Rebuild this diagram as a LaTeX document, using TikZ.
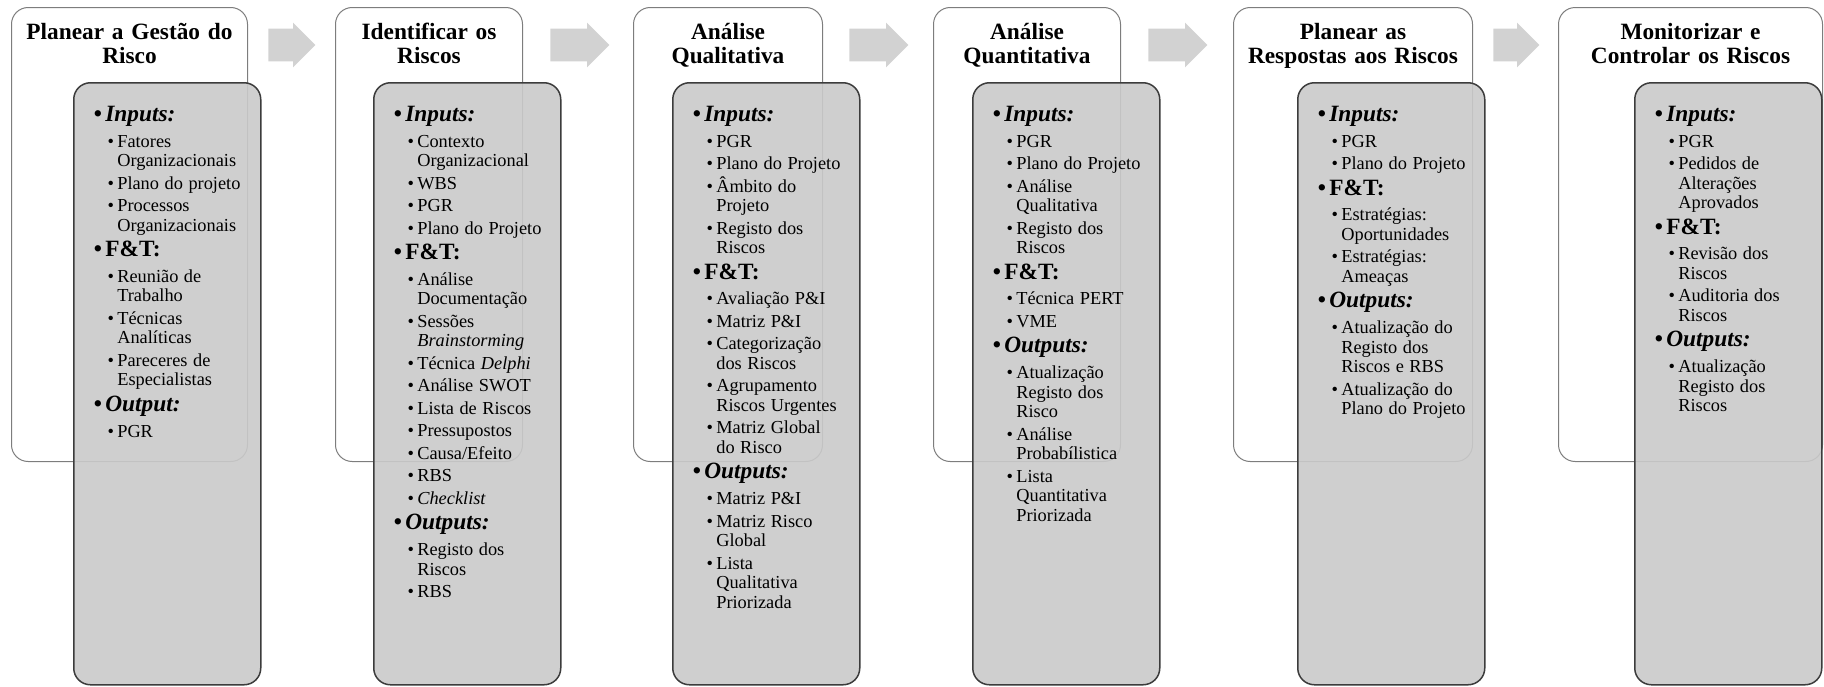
\documentclass[tikz,border=0pt]{standalone}
\usepackage{fontspec}
\setmainfont{Liberation Serif}
\usepackage{xcolor}
\definecolor{panelgray}{RGB}{202,202,202}
\definecolor{arrowgray}{RGB}{210,210,210}
\definecolor{framegray}{RGB}{125,125,125}
\definecolor{edgedark}{RGB}{60,60,60}
\usetikzlibrary{positioning, shapes.arrows}

\newcommand{\px}{0.6pt}
\newcommand{\grp}[1]{\par\leftskip=0pt\fontsize{14}{13.55}\selectfont\bfseries\noindent\llap{\textbullet\hspace{2pt}}#1\par\vspace{1.85pt}}
\newcommand{\itm}[1]{\par\leftskip=7.2pt\fontsize{11}{11.7}\selectfont\mdseries\noindent\llap{\textbullet\hspace{2pt}}#1\par}

\begin{document}
\begin{tikzpicture}[x=0.6pt, y=-0.6pt,
  frame/.style={draw=framegray, line width=0.6pt, rounded corners=10pt, fill=white, minimum height=454*\px, anchor=north west, inner sep=0},
  panel/.style={draw=edgedark, line width=0.9pt, rounded corners=10pt, fill=panelgray, fill opacity=0.9, minimum width=187*\px, minimum height=602*\px, anchor=north west, inner sep=0},
  ttl/.style={font=\fontsize{14}{14.4}\selectfont\bfseries, align=center, text width=260*\px, anchor=base, inner sep=0},
  lst/.style={text width=150*\px, align=left, anchor=base west, inner sep=0, execute at begin node={\parskip=1.8pt\lineskiplimit=-10pt}},
  flow/.style={single arrow, fill=arrowgray, draw=none, inner xsep=0, inner ysep=16*\px, text height=0pt, text depth=0pt, single arrow head extend=6*\px, anchor=tail}
]
\useasboundingbox (0,0) rectangle (1824,686);
% outer frames
\node[frame, minimum width=236*\px] (w1) at (11,7) {};
\node[frame, minimum width=187*\px] (w2) at (335,7) {};
\node[frame, minimum width=189*\px] (w3) at (633,7) {};
\node[frame, minimum width=187*\px] (w4) at (933,7) {};
\node[frame, minimum width=239*\px] (w5) at (1233,7) {};
\node[frame, minimum width=264*\px] (w6) at (1558,7) {};
% titles
\node[ttl] (t1) at ([yshift=-19.5pt]w1.north) {Planear a Gestão do\\Risco};
\node[ttl] (t2) at ([yshift=-19.5pt]w2.north) {Identificar os\\Riscos};
\node[ttl] (t3) at ([yshift=-19.5pt]w3.north) {Análise\\Qualitativa};
\node[ttl] (t4) at ([yshift=-19.5pt]w4.north) {Análise\\Quantitativa};
\node[ttl] (t5) at ([yshift=-19.5pt]w5.north) {Planear as\\Respostas aos Riscos};
\node[ttl] (t6) at ([yshift=-19.5pt]w6.north) {Monitorizar e\\Controlar os Riscos};
% inner panels
\node[panel] (p1) at (73,82) {};
\node[panel] (p2) at (373,82) {};
\node[panel] (p3) at (672,82) {};
\node[panel] (p4) at (972,82) {};
\node[panel] (p5) at (1297,82) {};
\node[panel] (p6) at (1634,82) {};
% arrows between steps
\node[flow, minimum height=47*\px] (a1) at (268,45) {};
\node[flow, minimum height=59*\px] (a2) at (550,45) {};
\node[flow, minimum height=59*\px] (a3) at (849,45) {};
\node[flow, minimum height=59*\px] (a4) at (1148,45) {};
\node[flow, minimum height=46*\px] (a5) at (1493,45) {};
% step 1
\node[lst] (l1) at ([xshift=19.2pt, yshift=-8.4pt]p1.north west) {%
\grp{\textit{Inputs:}}
\itm{Fatores\\Organizacionais}
\itm{Plano do projeto}
\itm{Processos\\Organizacionais}
\grp{F\&T:}
\itm{Reunião de\\Trabalho}
\itm{Técnicas\\Analíticas}
\itm{Pareceres de\\Especialistas}
\grp{\textit{Output:}}
\itm{PGR}};
% step 2
\node[lst] (l2) at ([xshift=19.2pt, yshift=-8.4pt]p2.north west) {%
\grp{\textit{Inputs:}}
\itm{Contexto\\Organizacional}
\itm{WBS}
\itm{PGR}
\itm{Plano do Projeto}
\grp{F\&T:}
\itm{Análise\\Documentação}
\itm{Sessões\\\textit{Brainstorming}}
\itm{Técnica \textit{Delphi}}
\itm{Análise SWOT}
\itm{Lista de Riscos}
\itm{Pressupostos}
\itm{Causa/Efeito}
\itm{RBS}
\itm{\textit{Checklist}}
\grp{\textit{Outputs:}}
\itm{Registo dos\\Riscos}
\itm{RBS}};
% step 3
\node[lst] (l3) at ([xshift=19.2pt, yshift=-8.4pt]p3.north west) {%
\grp{\textit{Inputs:}}
\itm{PGR}
\itm{Plano do Projeto}
\itm{Âmbito do\\Projeto}
\itm{Registo dos\\Riscos}
\grp{F\&T:}
\itm{Avaliação P\&I}
\itm{Matriz P\&I}
\itm{Categorização\\dos Riscos}
\itm{Agrupamento\\Riscos Urgentes}
\itm{Matriz Global\\do Risco}
\grp{\textit{Outputs:}}
\itm{Matriz P\&I}
\itm{Matriz Risco\\Global}
\itm{Lista\\Qualitativa\\Priorizada}};
% step 4
\node[lst] (l4) at ([xshift=19.2pt, yshift=-8.4pt]p4.north west) {%
\grp{\textit{Inputs:}}
\itm{PGR}
\itm{Plano do Projeto}
\itm{Análise\\Qualitativa}
\itm{Registo dos\\Riscos}
\grp{F\&T:}
\itm{Técnica PERT}
\itm{VME}
\grp{\textit{Outputs:}}
\itm{Atualização\\Registo dos\\Risco}
\itm{Análise\\Probabílistica}
\itm{Lista\\Quantitativa\\Priorizada}};
% step 5
\node[lst] (l5) at ([xshift=19.2pt, yshift=-8.4pt]p5.north west) {%
\grp{\textit{Inputs:}}
\itm{PGR}
\itm{Plano do Projeto}
\grp{F\&T:}
\itm{Estratégias:\\Oportunidades}
\itm{Estratégias:\\Ameaças}
\grp{\textit{Outputs:}}
\itm{Atualização do\\Registo dos\\Riscos e RBS}
\itm{Atualização do\\Plano do Projeto}};
% step 6
\node[lst] (l6) at ([xshift=19.2pt, yshift=-8.4pt]p6.north west) {%
\grp{\textit{Inputs:}}
\itm{PGR}
\itm{Pedidos de\\Alterações\\Aprovados}
\grp{F\&T:}
\itm{Revisão dos\\Riscos}
\itm{Auditoria dos\\Riscos}
\grp{\textit{Outputs:}}
\itm{Atualização\\Registo dos\\Riscos}};
\end{tikzpicture}
\end{document}
